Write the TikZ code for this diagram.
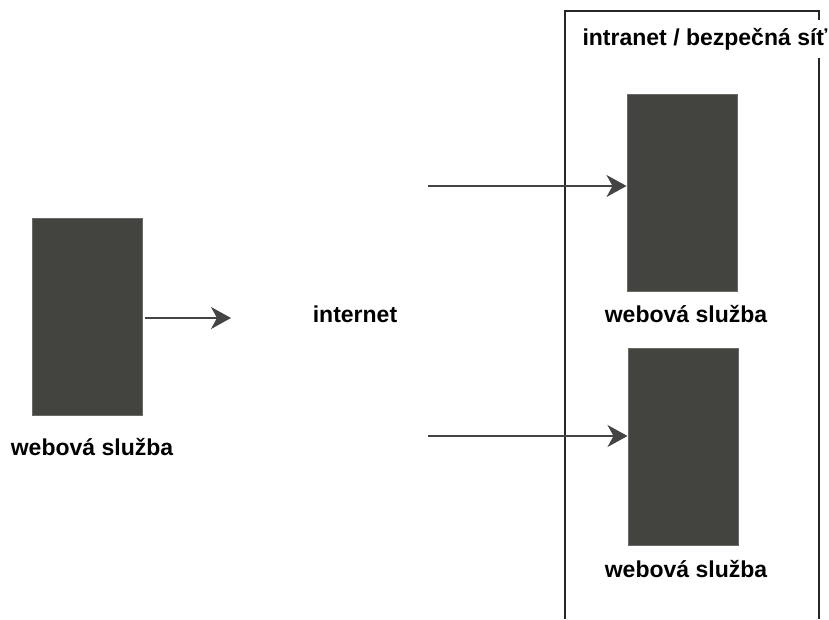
\documentclass[tikz,border=0pt]{standalone}
\usepackage{fontspec}
\setmainfont{Liberation Sans}
\usetikzlibrary{arrows.meta}
\definecolor{boxfill}{RGB}{67,67,64}
\definecolor{linegray}{RGB}{68,68,68}
\begin{document}
\begin{tikzpicture}[x=1pt,y=-1pt,
  service/.style={draw=boxfill!80!white,line width=1pt,fill=boxfill,minimum width=110pt,minimum height=197pt,inner sep=0pt},
  caption/.style={font=\fontsize{23}{26}\selectfont\bfseries,text=black,inner sep=0pt,anchor=base},
  flow/.style={draw=linegray,line width=1.4pt,-{Stealth[length=20pt,width=22pt,inset=6pt]}}]
\useasboundingbox (0,0) rectangle (829,619);

% intranet frame, open at the bottom
\draw[draw=black!85,line width=1.5pt] (565,619) -- (565,11) -- (819,11) -- (819,619);
\node[caption,fill=white,inner xsep=1pt,inner ysep=8pt] (zone) at (705,45) {intranet / bezpečná síť};

% services
\node[service] (client) at (87,316.5) {};
\node[caption] (clientlbl) at (92,455) {webová služba};
\node[service] (srvA) at (682,192.5) {};
\node[caption] (srvAlbl) at (686,322) {webová služba};
\node[service] (srvB) at (683,446.5) {};
\node[caption] (srvBlbl) at (686,577) {webová služba};

\node[caption] (net) at (355,322) {internet};

% connectors
\coordinate (c0) at (145,318);
\coordinate (c1) at (231,318);
\coordinate (c2) at (428,186);
\coordinate (c3) at (428,436);
\draw[flow] (c0) -- (c1);
\draw[flow] (c2) -- (srvA.west |- c2);
\draw[flow] (c3) -- (srvB.west |- c3);
\end{tikzpicture}
\end{document}
